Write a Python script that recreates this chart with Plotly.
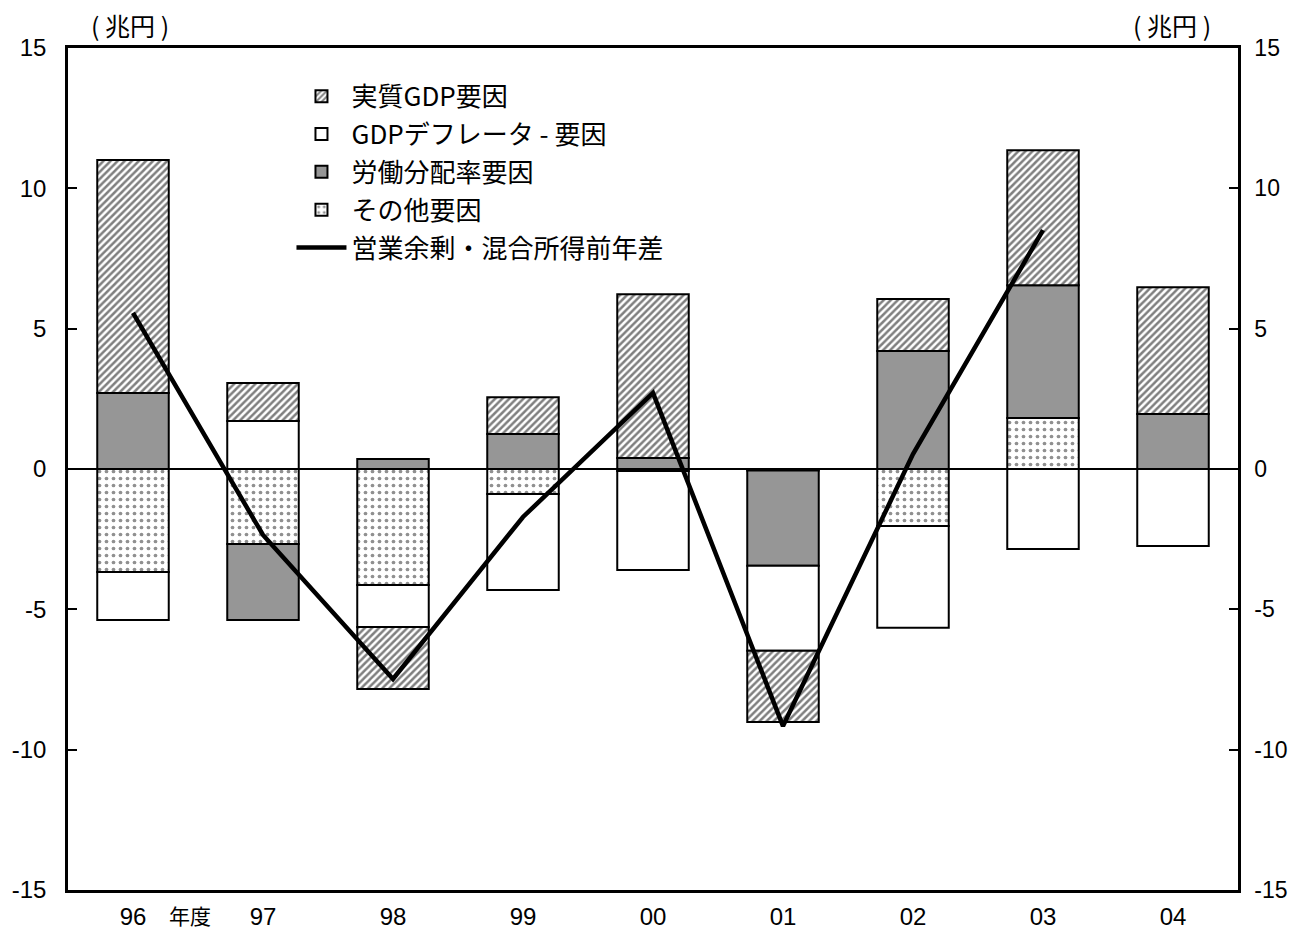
import plotly.graph_objects as go

years = ["96", "97", "98", "99", "00", "01", "02", "03", "04"]
real_gdp = [8.30, 1.35, -2.21, 1.31, 5.84, -2.53, 1.86, 4.81, 4.52]
deflator = [-1.71, 1.71, -1.50, -3.42, -3.53, -3.03, -3.63, -2.85, -2.74]
labour = [2.71, -2.71, 0.36, 1.25, 0.39, -3.40, 4.20, 4.73, 1.96]
other = [-3.67, -2.67, -4.13, -0.89, -0.07, -0.05, -2.03, 1.82, 0.00]
surplus_diff = [5.56, -2.35, -7.48, -1.71, 2.71, -9.16, 0.53, 8.51, None]
tick_vals = [-15, -10, -5, 0, 5, 10, 15]
tick_text = ["-15", "-10", "-5", "0", "5", "10", "15"]

JP = "Noto Sans CJK JP"
NUM = "Liberation Sans"

fig = go.Figure()
line_style = dict(color="black", width=2)

fig.add_trace(go.Bar(
    x=years, y=other, name="その他要因", legendrank=4, legendgroup="d",
    marker=dict(color="white", line=line_style,
                pattern=dict(shape=".", fgcolor="#222222", bgcolor="white", size=7, solidity=0.22)),
))
fig.add_trace(go.Bar(
    x=years, y=labour, name="労働分配率要因", legendrank=3, legendgroup="c",
    marker=dict(color="#969696", line=line_style),
))
fig.add_trace(go.Bar(
    x=years, y=deflator, name="GDPデフレータ - 要因", legendrank=2, legendgroup="b",
    marker=dict(color="white", line=line_style),
))
fig.add_trace(go.Bar(
    x=years, y=real_gdp, name="実質GDP要因", legendrank=1, legendgroup="a",
    marker=dict(color="white", line=line_style,
                pattern=dict(shape="/", fgcolor="#000000", bgcolor="white", size=5, solidity=0.5)),
))
fig.add_trace(go.Scatter(
    x=years, y=surplus_diff, name="営業余剰・混合所得前年差", legendrank=5, legendgroup="e",
    mode="lines", line=dict(color="black", width=4.5), connectgaps=False,
))
# invisible trace for right axis
fig.add_trace(go.Scatter(x=years, y=[None] * len(years), yaxis="y2", showlegend=False, hoverinfo="skip"))

yax = dict(range=[-15, 15], tickvals=tick_vals, ticktext=tick_text, showline=True,
           linecolor="black", linewidth=2.5, ticks="inside", ticklen=9, tickwidth=2,
           tickcolor="black", showgrid=False, automargin=False)

unit = "(\u00a0兆円\u00a0)"

# page body has an 8px default margin, so the figure is sized to fit 1300x939
fig.update_layout(
    width=1284, height=923,
    margin=dict(l=60, r=54, t=40, b=41),
    paper_bgcolor="white", plot_bgcolor="white",
    barmode="relative", bargap=0.45,
    font=dict(family=NUM, size=24, color="black"),
    xaxis=dict(type="category", showline=True, linecolor="black", linewidth=2.5, mirror=True,
               ticks="", showgrid=False, automargin=False, ticklabelstandoff=3,
               tickfont=dict(family=NUM, size=24)),
    yaxis=dict(**yax, zeroline=True, zerolinecolor="black", zerolinewidth=1.5,
               tickfont=dict(family=NUM, size=24), ticklabelstandoff=14),
    yaxis2=dict(**yax, overlaying="y", side="right", zeroline=False,
                tickfont=dict(family=NUM, size=23), ticklabelstandoff=9),
    legend=dict(x=0.191, y=0.9705, xanchor="left", yanchor="top", bgcolor="rgba(0,0,0,0)",
                font=dict(family=JP, size=26), tracegroupgap=1, itemwidth=50),
    annotations=[
        dict(text=unit, xref="paper", yref="paper", x=0.053, y=1.0, yshift=3,
             xanchor="center", yanchor="bottom", showarrow=False, font=dict(family=JP, size=25)),
        dict(text=unit, xref="paper", yref="paper", x=0.944, y=1.0, yshift=3,
             xanchor="center", yanchor="bottom", showarrow=False, font=dict(family=JP, size=25)),
        dict(text="年度", xref="paper", yref="paper", x=0.104, y=0, yshift=-25,
             xanchor="center", yanchor="middle", showarrow=False, font=dict(family=JP, size=21)),
    ],
)

fig.write_html("out.html")
